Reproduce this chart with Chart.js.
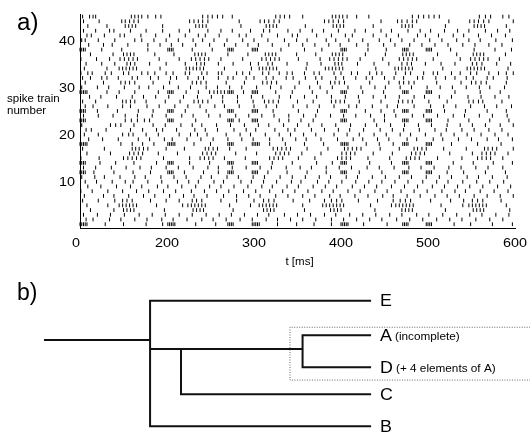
<!DOCTYPE html>
<html><head><meta charset="utf-8">
<script src="https://cdn.jsdelivr.net/npm/chart.js@4.4.1/dist/chart.umd.min.js"></script>
<style>
html,body{margin:0;padding:0;background:#fff;width:530px;height:433px;overflow:hidden}
canvas{position:absolute;left:0}
#c1{top:0}
#c2{top:275px}
</style></head><body>
<canvas id="c1" width="530" height="275"></canvas>
<canvas id="c2" width="530" height="158"></canvas>
<script>
// ---------- DATA: spike times (ms) for each spike train ----------
const train01 = [100,102,104,106,108,129,150,176,195,201,203,205,207,209,233,256,270,272,274,276,298,300,302,304,306,327,349,369,389,400,402,404,406,408,426,453,471,473,475,477,498,500,502,504,530,549,574,597];
const train02 = [107,115,134,147,163,177,194,207,223,240,253,268,284,298,314,327,342,356,371,389,403,418,433,447,464,479,494,510,525,539,555,571,586];
const train03 = [104,120,135,151,168,183,198,214,229,245,260,274,289,304,317,335,350,365,381,394,410,425,440,456,470,487,501,517,533,548,562,578,593];
const train04 = [112,139,150,154,158,162,197,230,234,238,242,276,311,315,319,323,358,388,392,396,400,439,470,474,478,482,520,552,556,560,564,594];
const train05 = [108,132,145,149,153,157,161,165,188,218,224,228,232,236,240,244,272,296,306,310,314,318,322,326,356,379,383,387,391,395,399,403,434,458,463,467,471,475,479,483,515,540,547,551,555,559,563,567,590];
const train06 = [103,121,140,149,154,160,181,199,214,229,234,240,262,280,300,311,317,323,345,364,381,389,395,401,420,442,460,468,474,480,503,526,541,551,557,563,584];
const train07 = [105,127,139,156,173,186,203,219,231,246,265,280,294,307,325,339,356,370,387,399,416,431,448,460,476,491,508,522,536,553,568,583,598];
const train08 = [101,114,132,149,165,179,196,210,228,243,257,271,288,302,318,333,347,362,378,391,408,422,439,453,469,484,499,516,531,543,560,576,592];
const train09 = [109,124,142,158,171,189,201,217,233,249,262,277,293,309,321,338,351,368,382,395,413,427,441,458,473,488,505,519,534,548,563,580,595];
const train10 = [106,119,137,152,161,178,194,212,225,236,254,265,285,297,311,326,343,354,373,386,401,417,432,447,462,477,494,510,523,540,556,571,587];
const train11 = [102,117,128,146,163,175,193,208,222,239,251,269,282,299,312,330,344,359,375,388,406,419,436,451,467,481,498,513,527,545,558,574,591];
const train12 = [100,102,104,106,116,139,161,181,201,203,205,207,220,242,259,270,272,274,276,298,300,302,304,316,338,361,383,400,402,404,406,421,447,471,473,475,477,498,500,502,504,522,541,566,589];
const train13 = [104,118,136,153,169,182,199,213,230,247,259,275,291,307,320,337,353,366,383,398,412,430,444,461,478,492,507,524,538,555,569,586];
const train14 = [100,102,104,106,123,141,162,188,201,203,205,207,226,249,270,272,274,276,298,300,302,304,321,344,372,390,400,402,404,406,433,458,471,473,475,477,498,500,502,504,529,552,575,597];
const train15 = [101,122,150,155,160,165,170,196,226,238,243,248,253,266,290,318,323,328,333,351,370,396,401,406,411,431,456,475,480,485,490,511,539,557,562,567,572,586];
const train16 = [108,135,157,162,167,172,190,212,241,246,251,256,279,303,325,330,335,340,355,377,401,406,411,416,437,459,481,486,491,496,525,551,562,567,572,577,592];
const train17 = [103,128,160,164,168,173,178,199,220,244,248,253,258,272,291,322,327,332,337,342,361,385,404,408,413,418,423,445,467,484,488,493,498,518,544,565,569,574,579,598];
const train18 = [100,102,104,106,108,147,160,172,185,201,203,205,207,209,231,250,270,272,274,276,298,300,302,304,306,318,336,358,380,400,402,404,406,408,429,444,460,471,473,475,477,498,500,502,504,527,557,584];
const train19 = [110,126,144,167,180,197,206,223,239,253,270,286,299,318,333,348,360,377,396,414,425,442,455,476,487,506,517,535,550,568,581,597];
const train20 = [105,121,149,156,161,176,190,214,227,235,246,268,284,296,313,329,342,357,371,392,407,421,438,452,468,480,497,515,530,545,561,577,592];
const train21 = [107,113,130,158,172,188,195,211,232,244,258,277,291,302,324,339,347,366,381,397,410,426,445,459,472,490,508,521,539,553,570,585];
const train22 = [102,135,141,147,162,184,198,216,229,240,257,273,289,305,317,334,350,363,378,394,411,428,441,457,473,489,504,522,537,551,566,583,598];
const train23 = [100,102,104,106,152,159,166,174,180,201,203,205,207,233,270,272,274,276,283,298,300,302,304,329,340,354,368,400,402,404,406,438,450,471,473,475,477,498,500,502,504,523,547,571,593];
const train24 = [104,121,138,152,166,183,199,217,230,248,261,279,294,309,323,340,357,371,388,403,417,434,450,463,482,495,511,529,542,559,574,591];
const train25 = [100,102,104,106,120,143,167,184,201,203,205,207,221,245,270,272,274,276,298,300,302,304,322,351,373,400,402,404,406,428,446,461,471,473,475,477,498,500,502,504,519,543,568,590];
const train26 = [106,115,132,149,158,177,191,209,224,238,255,266,283,300,314,326,345,361,375,392,409,418,436,453,465,484,503,518,532,549,565,579,596];
const train27 = [103,118,149,153,158,163,176,198,215,231,236,241,247,264,281,299,312,317,322,328,350,368,389,394,399,404,421,446,466,471,477,482,501,522,547,552,558,563,585];
const train28 = [111,124,142,160,173,187,202,219,235,251,264,281,297,310,329,342,358,372,389,405,420,437,451,467,484,496,513,527,546,561,577,593];
const train29 = [100,102,104,106,108,131,145,163,190,201,203,205,207,222,236,249,254,258,262,266,270,272,274,276,288,298,300,302,304,325,344,367,384,400,402,404,406,425,449,471,473,475,477,498,500,502,504,531,560,583];
const train30 = [102,120,133,151,168,179,196,213,227,245,258,272,286,303,319,331,347,364,376,390,408,423,439,451,468,481,499,514,528,544,559,571,588];
const train31 = [106,127,147,152,157,163,184,203,229,234,239,245,268,289,310,315,320,326,352,373,388,393,398,404,433,455,467,472,478,484,510,538,550,555,561,567,590];
const train32 = [103,112,125,131,144,160,166,181,190,204,211,224,236,242,259,270,276,291,300,314,322,337,345,359,371,378,394,403,417,429,436,450,461,472,488,494,509,520,531,544,552,568,575,591];
const train33 = [101,109,114,129,136,150,156,171,178,186,199,207,221,226,240,246,259,263,280,287,295,310,317,329,338,344,358,369,375,392,400,412,419,433,441,447,463,474,480,495,506,511,527,537,549,556,570,581,590,598];
const train34 = [105,131,145,149,153,157,161,165,192,222,226,230,234,238,242,266,297,306,310,314,318,322,326,360,382,386,390,394,398,402,440,462,466,470,474,478,482,517,545,549,553,557,561,565,592];
const train35 = [107,125,140,154,158,163,180,199,221,234,239,243,259,276,296,305,316,321,338,361,377,393,397,401,419,438,455,470,476,481,497,515,531,551,556,562,579,595];
const train36 = [101,119,134,146,151,156,161,166,191,214,228,233,238,243,248,262,287,309,314,319,324,329,351,376,387,392,397,402,407,422,448,467,472,477,482,487,506,537,549,554,559,564,569,582];
const train37 = [112,138,150,154,158,162,186,208,232,236,240,244,270,293,313,317,321,325,349,371,390,394,398,402,428,451,471,475,479,483,511,533,552,556,560,564,589];
const train38 = [100,102,104,106,125,148,178,201,203,205,207,229,252,270,272,274,276,298,300,302,304,331,358,378,400,402,404,406,431,452,471,473,475,477,498,500,502,504,526,553,577,596];
const train39 = [110,127,137,155,178,192,205,218,233,249,266,279,293,305,321,340,356,370,386,399,418,431,449,462,479,493,508,523,540,554,570,585];
const train40 = [102,106,121,140,163,171,185,199,213,230,241,254,269,287,300,316,335,349,361,383,394,409,425,444,457,470,484,502,516,533,547,560,578,597];
const train41 = [108,113,128,146,151,170,187,203,221,236,244,260,283,291,309,327,344,350,372,389,405,413,437,452,466,488,497,512,529,541,558,573,589];
const train42 = [104,118,134,139,158,176,195,214,226,247,262,275,296,311,318,339,353,367,380,397,416,428,446,458,477,491,503,519,534,547,566,580,594];
const train43 = [109,131,152,156,160,164,195,233,237,241,245,285,314,318,322,326,359,391,395,399,403,437,470,474,478,482,520,553,557,561,565,590];
const train44 = [104,122,148,152,157,162,167,226,231,236,241,247,283,307,312,317,323,329,381,386,391,397,403,446,465,470,476,482,487,524,548,553,558,564,570,598];
const train45 = [103,111,115,118,159,163,167,171,178,187,193,241,247,252,258,264,275,325,330,335,341,356,390,394,398,402,407,418,432,482,489,495,501,507,513,559,566,572,586,593];

const spikeTrains = [train01,train02,train03,train04,train05,train06,train07,train08,train09,train10,
  train11,train12,train13,train14,train15,train16,train17,train18,train19,train20,
  train21,train22,train23,train24,train25,train26,train27,train28,train29,train30,
  train31,train32,train33,train34,train35,train36,train37,train38,train39,train40,
  train41,train42,train43,train44,train45];

const xTickValues = [100,200,300,400,500,600];
const xTickLabels = ['0','200','300','400','500','600'];
const yTickValues = [10,20,30,40];

// ---------- DATA: dendrogram ----------
const leafNames = ['E','A','D','C','B'];
const leafNotes = ['','(incomplete)','(+ 4 elements of A)','',''];
const leafPos   = [0, 1.08, 2.08, 2.92, 3.92];      // vertical leaf order positions
const mergeAD   = 0.31;   // distance of A-D merge
const mergeADC  = 0.86;   // distance of (A,D)-C merge
const mergeRoot = 1.00;   // distance of root merge
const rootStub  = 1.48;   // end of root stem
const nodeADC_y = 1.51;   // vertical position of (A,D,C) branch
const nodeRoot_y = 1.23;  // vertical position of root stem
const boxLeft = 0.367, boxTop = 0.83, boxBottom = 2.48, boxRight = -0.72;

// ---------- helpers ----------
const FONT = '"Liberation Sans", Arial, Helvetica, sans-serif';
function sText(ctx, text, x, y, size, align, baseline, sx) {
  ctx.save();
  ctx.font = size + 'px ' + FONT;
  ctx.fillStyle = '#000';
  ctx.textAlign = align;
  ctx.textBaseline = baseline;
  ctx.translate(x, y);
  ctx.scale(sx, 1);
  ctx.fillText(text, 0, 0);
  ctx.restore();
}

// ---------- raster chart ----------
const rasterPoints = [];
spikeTrains.forEach((tr, i) => tr.forEach(t => rasterPoints.push({x: t, y: i + 1})));

const rasterText = {
  id: 'rasterText',
  afterDraw(chart) {
    const ctx = chart.ctx, xs = chart.scales.x, ys = chart.scales.y, ca = chart.chartArea;
    yTickValues.forEach(v => sText(ctx, String(v), ca.left - 5, ys.getPixelForValue(v) + 1, 12.5, 'right', 'middle', 1.15));
    xTickValues.forEach((v, i) => sText(ctx, xTickLabels[i], xs.getPixelForValue(v) - (i === 0 ? 4 : 0), ca.bottom + 16, 12.5, 'center', 'middle', 1.15));
    sText(ctx, 't [ms]', (ca.left + ca.right) / 2 + 2, ca.bottom + 34, 10.5, 'center', 'middle', 1.1);
    sText(ctx, 'spike train', 7, 99, 10.5, 'left', 'middle', 1.1);
    sText(ctx, 'number', 7, 111, 10.5, 'left', 'middle', 1.1);
    sText(ctx, 'a)', 17, 30, 23, 'left', 'alphabetic', 1.05);
  }
};

new Chart(document.getElementById('c1'), {
  type: 'scatter',
  data: { datasets: [{
    data: rasterPoints,
    pointStyle: 'line', rotation: 90, radius: 1.9, hoverRadius: 1.9,
    borderColor: '#000', backgroundColor: '#000', borderWidth: 1, clip: false
  }]},
  options: {
    responsive: false, animation: false, events: [],
    layout: { padding: { left: 0, top: 14, right: 15, bottom: 0 } },
    plugins: { legend: { display: false }, tooltip: { enabled: false } },
    scales: {
      x: { type: 'linear', min: 100, max: 600,
        grid: { display: false, drawTicks: false },
        border: { display: true, color: '#000', width: 1 },
        ticks: { display: false },
        afterFit(s) { s.height = 47; } },
      y: { type: 'linear', min: 0.2, max: 45.55,
        grid: { display: false, drawTicks: false },
        border: { display: true, color: '#000', width: 1 },
        ticks: { display: false },
        afterFit(s) { s.width = 80; } }
    }
  },
  plugins: [rasterText]
});

// ---------- dendrogram chart ----------
const lineStyle = { showLine: true, pointRadius: 0, borderColor: '#111', borderWidth: 2, clip: false, tension: 0 };
const iE = 0, iA = 1, iD = 2, iC = 3, iB = 4;
const dendroSets = [
  { ...lineStyle, data: [{x: rootStub, y: nodeRoot_y}, {x: mergeRoot, y: nodeRoot_y}] },
  { ...lineStyle, data: [{x: 0, y: leafPos[iE]}, {x: mergeRoot, y: leafPos[iE]}, {x: mergeRoot, y: leafPos[iB]}, {x: 0, y: leafPos[iB]}] },
  { ...lineStyle, data: [{x: mergeRoot, y: nodeADC_y}, {x: mergeAD, y: nodeADC_y}] },
  { ...lineStyle, data: [{x: mergeADC, y: nodeADC_y}, {x: mergeADC, y: leafPos[iC]}, {x: 0, y: leafPos[iC]}] },
  { ...lineStyle, data: [{x: 0, y: leafPos[iA]}, {x: mergeAD, y: leafPos[iA]}, {x: mergeAD, y: leafPos[iD]}, {x: 0, y: leafPos[iD]}] },
  { showLine: true, pointRadius: 0, borderColor: '#666', borderWidth: 1, borderDash: [1, 1.5], clip: false, tension: 0,
    data: [{x: boxRight, y: boxTop}, {x: boxLeft, y: boxTop}, {x: boxLeft, y: boxBottom}, {x: boxRight, y: boxBottom}] }
];

const dendroText = {
  id: 'dendroText',
  afterDraw(chart) {
    const ctx = chart.ctx, xs = chart.scales.x, ys = chart.scales.y;
    const x0 = xs.getPixelForValue(0) + 9;
    leafNames.forEach((n, i) => {
      const y = ys.getPixelForValue(leafPos[i]) + 1;
      sText(ctx, n, x0, y, 17, 'left', 'middle', 1.05);
      if (leafNotes[i]) {
        ctx.save(); ctx.font = '17px ' + FONT;
        const w = ctx.measureText(n).width * 1.05; ctx.restore();
        sText(ctx, leafNotes[i], x0 + w + 3, y + 1, 10.5, 'left', 'middle', 1.12);
      }
    });
    sText(ctx, 'b)', 17, 25, 23, 'left', 'alphabetic', 1.0);
  }
};

new Chart(document.getElementById('c2'), {
  type: 'scatter',
  data: { datasets: dendroSets },
  options: {
    responsive: false, animation: false, events: [],
    layout: { padding: 0 },
    plugins: { legend: { display: false }, tooltip: { enabled: false } },
    scales: {
      x: { type: 'linear', display: false, reverse: true, min: -0.719, max: 1.679 },
      y: { type: 'linear', display: false, reverse: true, min: -0.803, max: 4.134 }
    }
  },
  plugins: [dendroText]
});
</script>
</body></html>
